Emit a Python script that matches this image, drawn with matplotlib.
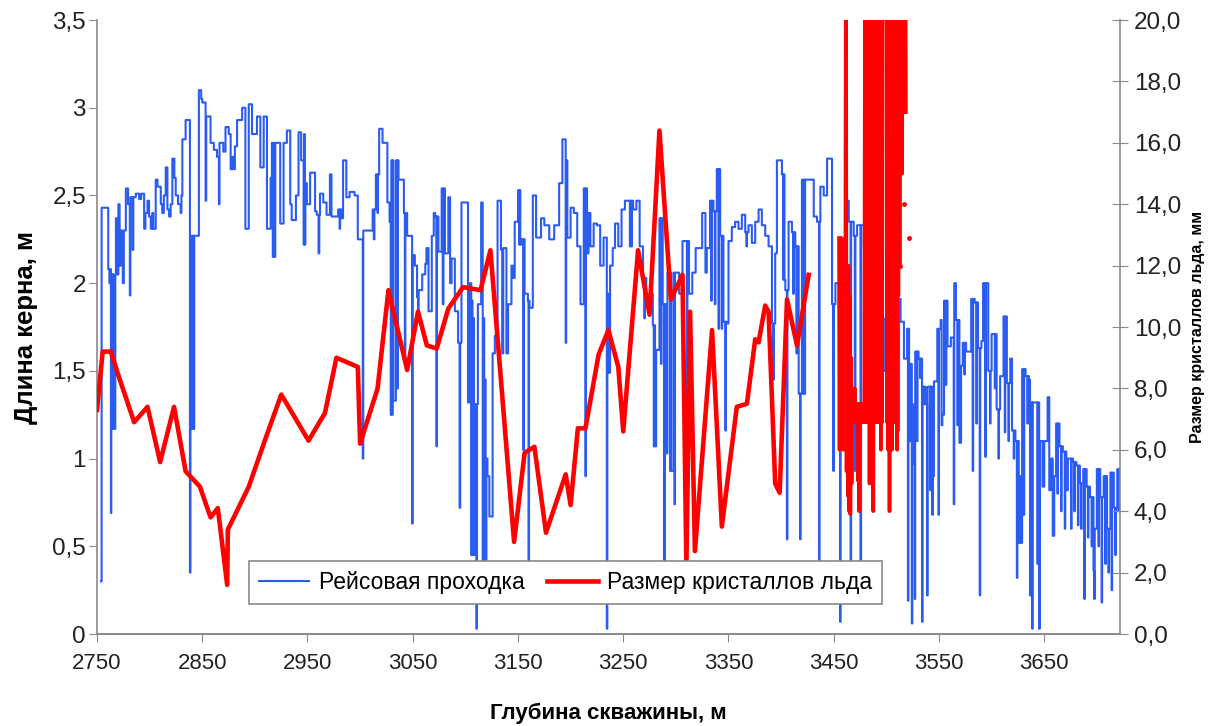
import matplotlib
matplotlib.use('Agg')
import matplotlib.pyplot as plt
from matplotlib.ticker import FuncFormatter
import numpy as np

plt.rcParams['font.family'] = ['Liberation Sans', 'DejaVu Sans']

# --- рейсовая проходка: начало рейса (м) и длина керна (м) ---
run_depth_1 = [2753.8, 2754.4, 2760.7, 2761.8, 2762.6, 2763.2, 2763.6, 2764.4, 2765.0, 2765.6,
               2766.2, 2766.8, 2767.4, 2768.0, 2769.5, 2770.3, 2771.5, 2772.7, 2774.5, 2775.5,
               2777.4, 2779.5, 2781.2, 2781.7, 2783.8, 2784.5, 2786.9, 2790.0, 2792.0, 2794.8,
               2796.0, 2798.0, 2799.5, 2801.1, 2802.5, 2803.5, 2805.8, 2807.5, 2810.6, 2812.0,
               2813.5, 2815.3, 2816.9, 2818.5, 2820.0, 2821.6, 2823.5, 2824.8, 2827.0, 2829.5,
               2830.2, 2831.1, 2834.2, 2838.3, 2838.8, 2839.4, 2840.0, 2840.6, 2841.2, 2841.8,
               2842.4, 2846.8, 2849.0, 2850.0, 2853.2, 2853.8, 2857.9, 2861.0, 2864.0, 2865.8,
               2866.4, 2870.0, 2872.1, 2875.2, 2877.0, 2878.4, 2880.0, 2881.0, 2883.1, 2887.9,
               2891.0, 2894.2, 2897.3, 2902.0, 2905.2, 2908.4, 2911.5, 2915.0, 2916.2, 2917.0,
               2917.6, 2918.3, 2919.4, 2924.1, 2927.3, 2930.4, 2933.6, 2935.0, 2939.0, 2941.5,
               2944.0, 2946.3]
run_len_1 = [0.30, 2.43, 2.08, 2.00, 2.08, 0.69, 2.05, 1.17, 2.05, 1.17,
             2.00, 1.17, 2.05, 2.37, 2.05, 2.45, 2.10, 2.30, 2.00, 2.30,
             2.54, 2.45, 1.93, 2.49, 2.19, 2.49, 2.51, 2.48, 2.51, 2.31,
             2.40, 2.47, 2.38, 2.31, 2.40, 2.31, 2.59, 2.55, 2.45, 2.40,
             2.50, 2.66, 2.42, 2.38, 2.45, 2.71, 2.60, 2.50, 2.45, 2.40,
             2.50, 2.82, 2.93, 0.35, 2.27, 1.17, 2.27, 1.17, 2.27, 1.17,
             2.27, 3.10, 3.05, 3.03, 2.47, 2.95, 2.80, 2.76, 2.72, 2.45,
             2.80, 2.75, 2.89, 2.85, 2.65, 2.72, 2.65, 2.78, 2.93, 3.00,
             2.31, 3.02, 2.85, 2.95, 2.66, 2.95, 2.31, 2.60, 2.80, 2.15,
             2.80, 2.15, 2.80, 2.34, 2.80, 2.87, 2.45, 2.36, 2.50, 2.86,
             2.70, 2.22]

run_depth_2 = [2946.8, 2947.4, 2948.0, 2949.4, 2952.5, 2957.2, 2958.8, 2960.5, 2961.2, 2961.9,
               2965.0, 2968.1, 2971.3, 2972.8, 2979.1, 2980.5, 2981.0, 2982.2, 2983.8, 2986.9,
               2990.0, 2994.7, 2997.8, 3002.5, 3003.0, 3011.9, 3013.0, 3013.6, 3015.0, 3016.5,
               3017.0, 3018.1, 3021.3, 3025.9, 3028.0, 3029.1, 3029.7, 3030.3, 3031.0, 3031.6,
               3034.0, 3035.3, 3035.9, 3036.5, 3041.6, 3042.5, 3043.0, 3044.7, 3049.4, 3049.9,
               3052.0, 3054.1, 3055.0, 3055.6, 3059.0, 3061.9, 3063.0, 3065.0, 3068.1, 3070.0,
               3071.3, 3072.5, 3073.0, 3074.4, 3077.5, 3078.5, 3079.2, 3080.6, 3083.8, 3085.5,
               3086.9, 3090.0, 3093.1, 3094.5, 3095.1, 3096.3, 3102.5, 3104.0, 3105.6, 3106.2,
               3106.8, 3107.4, 3108.1, 3108.8, 3110.5, 3111.0, 3111.9, 3115.0, 3116.5, 3117.2,
               3117.9, 3118.6, 3119.3, 3120.0, 3121.0, 3122.8, 3125.9, 3128.0, 3130.6, 3133.8,
               3135.0, 3136.0]
run_len_2 = [2.85, 2.22, 2.57, 2.45, 2.63, 2.41, 2.39, 2.17, 2.39, 2.51,
             2.46, 2.39, 2.62, 2.38, 2.42, 2.31, 2.42, 2.37, 2.70, 2.49,
             2.52, 2.50, 2.25, 1.00, 2.30, 2.42, 2.25, 2.42, 2.62, 2.40,
             2.62, 2.88, 2.80, 2.46, 2.35, 1.25, 2.70, 1.25, 2.70, 1.33,
             2.70, 1.40, 2.70, 2.59, 2.40, 1.54, 2.40, 2.27, 0.63, 2.16,
             2.10, 1.92, 1.80, 1.96, 2.05, 2.11, 2.20, 1.84, 2.27, 2.40,
             2.38, 1.07, 2.38, 2.18, 2.54, 1.88, 2.54, 2.17, 2.49, 2.00,
             2.14, 1.84, 1.66, 0.72, 1.66, 2.46, 1.32, 2.00, 0.45, 1.90,
             0.45, 1.80, 0.45, 1.31, 0.03, 1.31, 1.88, 2.46, 0.40, 1.80,
             0.40, 1.45, 0.40, 1.00, 0.90, 0.67, 1.60, 1.70, 2.47, 2.19,
             1.60, 2.20]

run_depth_3 = [3139.0, 3140.6, 3143.8, 3145.0, 3146.9, 3150.0, 3151.0, 3151.6, 3152.2, 3153.1,
               3155.0, 3155.6, 3156.3, 3159.4, 3160.0, 3160.5, 3160.9, 3164.1, 3167.2, 3171.9,
               3175.0, 3179.7, 3184.4, 3189.1, 3192.2, 3195.3, 3195.8, 3196.9, 3200.0, 3203.1,
               3206.3, 3209.4, 3212.5, 3214.0, 3214.6, 3215.6, 3217.0, 3218.8, 3221.9, 3225.0,
               3228.1, 3231.3, 3234.4, 3234.9, 3235.6, 3236.2, 3236.8, 3237.5, 3240.0, 3242.2,
               3245.3, 3248.4, 3251.6, 3256.3, 3257.0, 3257.6, 3258.2, 3259.4, 3262.5, 3265.6,
               3268.8, 3270.0, 3270.6, 3271.9, 3275.0, 3278.1, 3279.0, 3279.6, 3280.2, 3281.3,
               3284.4, 3285.8, 3286.4, 3287.5, 3289.0, 3289.5, 3290.6, 3292.0, 3294.5, 3295.1,
               3295.7, 3298.0, 3298.6, 3299.2, 3303.1, 3306.3, 3310.5, 3311.0, 3312.5, 3315.6,
               3318.8, 3325.0, 3328.1]
run_len_3 = [1.60, 1.88, 2.10, 2.03, 2.35, 2.53, 2.22, 2.53, 2.22, 2.25,
             1.05, 2.25, 1.94, 1.90, 0.39, 1.90, 1.86, 2.50, 2.26, 2.37,
             2.33, 2.25, 2.33, 2.57, 2.82, 1.66, 2.70, 2.26, 2.43, 2.40,
             2.21, 1.88, 2.54, 0.90, 2.54, 2.17, 2.40, 2.21, 2.34, 2.33,
             2.10, 2.26, 0.03, 1.94, 1.49, 1.94, 1.49, 2.10, 2.20, 2.34,
             2.21, 2.42, 2.47, 2.21, 2.47, 2.21, 2.47, 2.42, 2.47, 2.21,
             2.03, 1.80, 2.03, 1.90, 1.94, 1.76, 1.07, 1.76, 1.07, 1.62,
             2.37, 1.54, 2.37, 1.88, 0.39, 1.88, 1.03, 2.06, 0.93, 2.06,
             0.93, 2.06, 0.74, 2.06, 1.94, 2.24, 1.05, 2.24, 1.94, 2.06,
             2.20, 2.40, 2.06]

run_depth_4 = [3329.4, 3332.5, 3333.5, 3334.1, 3335.7, 3337.0, 3337.6, 3338.9, 3340.5, 3341.0,
               3342.1, 3343.5, 3344.0, 3345.2, 3347.0, 3347.5, 3348.4, 3350.0, 3353.2, 3356.3,
               3359.5, 3362.7, 3365.9, 3367.0, 3367.6, 3369.0, 3372.2, 3375.4, 3378.6, 3381.7,
               3384.9, 3388.1, 3391.3, 3392.5, 3393.1, 3394.4, 3396.0, 3400.8, 3402.0, 3402.6,
               3403.2, 3404.0, 3405.5, 3406.0, 3407.1, 3410.3, 3411.5, 3412.1, 3413.5, 3414.5,
               3415.1, 3416.7, 3418.0, 3418.5, 3419.8, 3421.0, 3421.6, 3422.2, 3422.8, 3431.0,
               3434.1, 3436.0, 3436.5, 3437.3, 3440.5, 3443.7, 3448.4, 3449.5, 3450.1, 3451.6,
               3454.8, 3456.0, 3456.5, 3457.9, 3461.1, 3464.3, 3466.0, 3466.5, 3469.0, 3470.0,
               3470.6, 3472.2, 3475.4, 3476.0, 3478.6, 3484.9, 3488.1, 3491.3, 3494.4, 3497.6,
               3500.8, 3504.0, 3507.1, 3510.3, 3511.5, 3512.1, 3513.5, 3516.7, 3519.8, 3520.5,
               3521.0, 3521.6, 3523.0, 3524.2, 3524.7]
run_len_4 = [2.20, 2.47, 1.90, 2.47, 2.41, 1.88, 2.41, 2.65, 1.74, 2.65,
             2.27, 1.74, 2.27, 1.78, 1.16, 1.78, 1.77, 2.24, 2.32, 2.35,
             2.31, 2.39, 2.29, 2.21, 2.29, 2.33, 2.23, 2.35, 2.42, 2.33,
             2.27, 2.21, 1.77, 1.45, 1.77, 2.17, 2.70, 2.62, 2.02, 2.62,
             2.02, 1.96, 0.54, 1.96, 2.35, 2.29, 1.94, 2.29, 2.21, 1.60,
             2.21, 1.37, 0.54, 1.37, 2.59, 1.37, 2.59, 1.37, 2.59, 2.38,
             2.35, 0.40, 2.35, 2.55, 2.50, 2.71, 1.88, 0.93, 1.88, 2.00,
             1.05, 0.07, 1.05, 2.00, 2.47, 2.35, 0.39, 2.35, 2.27, 0.93,
             2.27, 2.33, 0.39, 2.33, 2.21, 1.74, 1.90, 1.40, 1.80, 1.50,
             1.70, 1.92, 1.78, 1.91, 1.16, 1.91, 1.78, 1.57, 1.74, 0.19,
             1.74, 1.10, 1.54, 0.06, 0.97]

run_depth_5 = [3526.2, 3527.0, 3527.4, 3529.0, 3529.6, 3530.6, 3532.0, 3532.6, 3533.9, 3534.4,
               3536.0, 3536.6, 3537.2, 3538.7, 3539.2, 3541.5, 3542.0, 3543.5, 3544.2, 3545.2,
               3548.4, 3549.5, 3550.0, 3551.6, 3552.5, 3553.2, 3554.8, 3556.5, 3557.0, 3558.1,
               3561.3, 3564.0, 3564.5, 3566.1, 3567.5, 3568.0, 3569.4, 3571.0, 3572.6, 3574.0,
               3574.6, 3575.8, 3580.6, 3582.0, 3582.5, 3583.9, 3585.5, 3586.0, 3587.1, 3588.7,
               3589.2, 3590.3, 3591.9, 3594.0, 3594.5, 3596.8, 3598.5, 3599.0, 3600.0, 3603.0,
               3603.5, 3604.8, 3606.5, 3607.0, 3608.1, 3611.3, 3612.5, 3613.0, 3614.5, 3616.0,
               3616.5, 3617.7, 3619.4, 3621.0, 3621.5, 3622.6, 3624.0, 3624.5, 3625.8, 3627.5,
               3628.0, 3629.0, 3630.5, 3631.0, 3632.3, 3634.0, 3634.5, 3635.5, 3636.5, 3637.1,
               3638.5, 3639.0, 3643.5, 3644.0, 3645.2, 3645.8, 3648.4, 3650.0, 3653.2, 3654.8,
               3656.5, 3658.1, 3659.5, 3661.3, 3662.5, 3663.0, 3664.5, 3666.0, 3666.5, 3667.7,
               3669.5, 3670.0, 3671.0, 3672.5, 3675.5, 3676.0, 3677.4, 3678.5, 3679.0, 3680.6,
               3682.0, 3682.5, 3683.9, 3685.0, 3685.5, 3687.1, 3688.0, 3688.5, 3690.3, 3691.5,
               3692.0, 3693.5, 3695.0, 3695.5, 3696.8, 3697.5, 3698.0, 3700.0, 3701.5, 3702.0,
               3703.2, 3704.5, 3705.0, 3706.5, 3708.0, 3708.5, 3709.7, 3711.0, 3711.5, 3712.9,
               3714.0, 3714.5, 3716.1, 3717.5, 3718.0, 3719.4, 3720.5, 3721.0, 3722.0]
run_len_5 = [1.31, 0.20, 1.61, 1.10, 1.61, 1.57, 1.46, 1.57, 0.07, 1.41,
             1.31, 1.41, 1.31, 0.22, 1.41, 0.82, 1.41, 0.68, 0.90, 1.44,
             1.74, 0.68, 1.74, 1.79, 1.19, 1.25, 1.90, 1.42, 1.90, 1.64,
             1.69, 0.74, 2.00, 1.79, 1.19, 1.79, 1.09, 1.53, 1.66, 1.48,
             1.66, 1.61, 1.91, 0.93, 1.91, 1.89, 1.20, 1.89, 1.63, 0.22,
             1.63, 1.67, 2.00, 1.01, 2.00, 1.50, 1.20, 1.50, 1.71, 1.40,
             1.71, 1.28, 1.00, 1.28, 1.47, 1.81, 1.15, 1.81, 1.43, 1.10,
             1.43, 1.57, 1.16, 1.00, 1.16, 1.10, 0.32, 1.10, 0.52, 0.90,
             0.52, 1.51, 0.68, 1.51, 1.47, 1.20, 1.47, 1.45, 0.22, 1.32,
             0.03, 1.32, 0.40, 1.32, 0.03, 1.10, 0.84, 1.10, 1.35, 0.82,
             1.00, 0.56, 0.90, 1.20, 0.80, 1.20, 1.07, 0.70, 1.07, 1.04,
             0.60, 1.04, 0.82, 1.00, 0.60, 1.00, 0.98, 0.70, 0.98, 0.96,
             0.62, 0.96, 0.86, 0.60, 0.86, 0.94, 0.20, 0.94, 0.84, 0.55,
             0.84, 0.78, 0.50, 0.78, 0.36, 0.20, 0.60, 0.94, 0.50, 0.94,
             0.78, 0.18, 0.78, 0.90, 0.40, 0.90, 0.60, 0.35, 0.60, 0.92,
             0.25, 0.92, 0.72, 0.45, 0.72, 0.94, 0.70, 0.94, 0.94]

# --- размер кристаллов льда (мм) ---
crystal_depth = [2750.0, 2755.4, 2763.2, 2769.6, 2785.3, 2798.0, 2810.0, 2823.2, 2834.2, 2847.8,
                 2857.9, 2864.8, 2873.7, 2874.3, 2894.2, 2911.5, 2925.1, 2951.0, 2966.6, 2977.5,
                 2997.8, 3000.0, 3016.6, 3026.9, 3044.7, 3055.0, 3063.4, 3072.8, 3083.8, 3097.8,
                 3114.4, 3123.8, 3146.3, 3156.3, 3165.6, 3176.6, 3195.3, 3200.0, 3206.9, 3214.1,
                 3226.6, 3235.9, 3245.3, 3250.0, 3264.1, 3275.0, 3284.4, 3295.3, 3306.3, 3310.0,
                 3313.5, 3318.1, 3334.4, 3343.7, 3357.9, 3367.5, 3375.4, 3378.6, 3384.9, 3388.1,
                 3394.4, 3398.6, 3405.6, 3415.1, 3426.2]
crystal_size = [7.3, 9.2, 9.2, 8.5, 6.9, 7.4, 5.6, 7.4, 5.3, 4.8,
                3.8, 4.1, 1.6, 3.4, 4.8, 6.5, 7.8, 6.3, 7.2, 9.0,
                8.7, 6.2, 8.0, 11.2, 8.6, 10.5, 9.4, 9.3, 10.6, 11.3,
                11.2, 12.5, 3.0, 5.9, 6.1, 3.3, 5.2, 4.2, 6.7, 6.7,
                9.1, 9.9, 8.7, 6.6, 12.5, 10.4, 16.4, 10.9, 11.7, 2.2,
                10.5, 2.7, 9.9, 3.5, 7.4, 7.5, 9.6, 9.5, 10.7, 10.5,
                4.9, 4.6, 10.9, 9.4, 11.7]

# плотные измерения 3455-3519 м (значения выше 20 мм обрезаются осью)
burst_depth = [3455.0, 3455.6, 3456.2, 3456.8, 3457.4, 3458.0, 3458.6, 3459.2, 3459.8, 3460.4,
               3461.0, 3461.6, 3462.2, 3462.8, 3463.4, 3464.0, 3464.6, 3465.2, 3465.8, 3466.4,
               3467.0, 3467.6, 3468.2, 3468.8, 3469.4, 3470.0, 3470.6, 3471.2, 3471.8, 3472.4,
               3473.0, 3473.6, 3474.2, 3474.8, 3475.4, 3476.0, 3476.6, 3477.2, 3477.8, 3478.4,
               3479.0, 3479.8, 3480.4, 3481.0, 3481.6, 3482.2, 3482.8, 3483.4, 3484.0, 3484.6,
               3485.2, 3485.8, 3486.4, 3487.0, 3487.6, 3488.2, 3488.8, 3489.4, 3490.0, 3490.6,
               3491.2, 3491.8, 3492.4, 3493.0, 3493.6, 3494.2, 3494.8, 3495.4, 3496.0, 3496.5,
               3498.0,
               3500.0, 3500.6, 3501.2, 3501.8, 3502.4, 3503.0, 3503.6, 3504.2, 3504.8, 3505.4,
               3506.0, 3506.6, 3507.2, 3507.8, 3508.4, 3509.0, 3509.6, 3510.2, 3510.8, 3511.4,
               3512.0, 3512.6, 3513.2, 3513.8, 3514.4, 3515.0, 3515.6, 3516.2, 3516.8, 3517.4,
               3518.0, 3518.6]
burst_size = [12.9, 6.0, 12.9, 6.5, 12.9, 7.0, 12.5, 6.0, 12.0, 7.0,
              11.0, 25.0, 5.3, 12.0, 4.5, 12.0, 4.0, 11.0, 3.9, 9.0,
              4.9, 8.0, 6.9, 8.0, 6.9, 8.0, 6.9, 7.5, 6.9, 7.5,
              5.0, 7.5, 4.0, 7.5, 6.9, 7.5, 6.9, 7.5, 6.9, 7.5,
              6.9, 25.0, 6.9, 25.0, 6.9, 25.0, 6.9, 25.0, 4.9, 25.0,
              6.9, 25.0, 6.9, 25.0, 4.0, 25.0, 6.9, 25.0, 6.9, 25.0,
              6.9, 25.0, 6.9, 25.0, 6.9, 25.0, 6.0, 25.0, 6.9, 25.0,
              np.nan,
              25.0, 6.9, 25.0, 6.0, 25.0, 4.0, 25.0, 6.9, 25.0, 6.0,
              25.0, 6.9, 25.0, 6.9, 25.0, 6.9, 25.0, 6.0, 25.0, 11.0,
              25.0, 12.0, 25.0, 15.0, 25.0, 15.0, 25.0, 17.0, 25.0, 17.0,
              25.0, 17.0]

dot_depth = [3512.6, 3517.1, 3521.2]
dot_size = [12.0, 14.0, 12.9]

x_ticks = [2750, 2850, 2950, 3050, 3150, 3250, 3350, 3450, 3550, 3650]

run_depth = run_depth_1 + run_depth_2 + run_depth_3 + run_depth_4 + run_depth_5
run_len = run_len_1 + run_len_2 + run_len_3 + run_len_4 + run_len_5
assert len(run_depth) == len(run_len)
assert len(crystal_depth) == len(crystal_size)
assert len(burst_depth) == len(burst_size)

BLUE = '#2b5cf2'
RED = '#ff0000'
GREY = '#8a8a8a'

fig = plt.figure(figsize=(12.17, 7.26), dpi=100)
ax = fig.add_axes([0.0797, 0.1267, 0.8406, 0.8457])
ax2 = ax.twinx()

blue_line, = ax.step(run_depth, run_len, where='post', color=BLUE, lw=1.5)
red_line, = ax2.plot(crystal_depth, crystal_size, color=RED, lw=3.3)
ax2.plot(burst_depth, burst_size, color=RED, lw=2.6)
ax2.plot(dot_depth, dot_size, 'o', color=RED, ms=2.5)

ax.set_xlim(2750, 3722)
ax.set_ylim(0, 3.5)
ax2.set_ylim(0, 20)

ax.set_xticks(x_ticks)
ax.set_yticks(np.arange(0, 3.51, 0.5))
ax2.set_yticks(np.arange(0, 20.1, 2))
ax.yaxis.set_major_formatter(FuncFormatter(lambda v, p: ('%g' % v).replace('.', ',')))
ax2.yaxis.set_major_formatter(FuncFormatter(lambda v, p: ('%.1f' % v).replace('.', ',')))

for a in (ax, ax2):
    a.spines['top'].set_visible(False)
    for s in a.spines.values():
        s.set_color(GREY)
        s.set_linewidth(1.2)
ax2.spines['left'].set_visible(False)
ax.spines['right'].set_visible(False)

ax.tick_params(axis='x', direction='out', length=6, color=GREY, labelsize=16,
               labelcolor='#222222', pad=8)
ax.tick_params(axis='y', direction='out', length=6, color=GREY, labelsize=17.5,
               labelcolor='#222222', pad=2)
ax2.tick_params(axis='y', direction='inout', length=12, color=GREY, labelsize=17.5,
                labelcolor='#222222', pad=4)

ax.set_ylabel('Длина керна, м', fontsize=18.5, fontweight='bold', labelpad=10)
ax.set_xlabel('Глубина скважины, м', fontsize=16, fontweight='bold', labelpad=20)
ax2.set_ylabel('Размер кристаллов льда, мм', fontsize=11.5, fontweight='bold', labelpad=6)

leg = ax2.legend([blue_line, red_line], ['Рейсовая проходка', 'Размер кристаллов льда'],
                 ncol=2, loc='lower center', bbox_to_anchor=(0.458, 0.03), fontsize=16.5,
                 frameon=True, fancybox=False, framealpha=1, edgecolor=GREY,
                 handlelength=2.2, columnspacing=1.0, borderpad=0.45, handletextpad=0.4)
leg.get_frame().set_linewidth(1.2)

fig.savefig('out.png', dpi=100)
